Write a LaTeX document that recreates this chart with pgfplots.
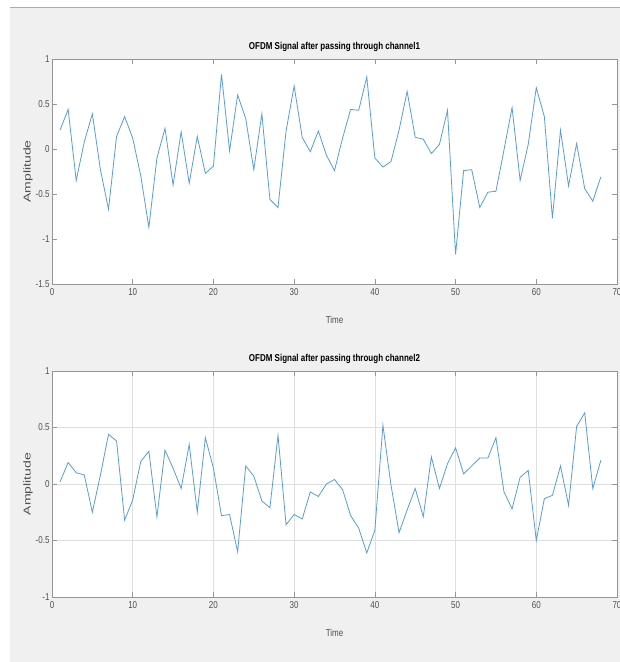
\documentclass[border=0pt]{standalone}
\usepackage{pgfplots}
\usepackage{pgfplotstable}
\pgfplotsset{compat=1.18}
\usepackage{fontspec}
\setmainfont{Liberation Sans}[FakeStretch=0.8]
\newfontfamily\widefont{Liberation Sans}[FakeStretch=1.4]

\definecolor{sig}{RGB}{86,158,214}
\definecolor{figbg}{RGB}{240,240,240}
\definecolor{axgray}{RGB}{150,150,150}
\definecolor{lblgray}{RGB}{80,80,80}

% channel 1
\pgfplotstableread{
t a
1 0.21
2 0.44
3 -0.35
4 0.08
5 0.39
6 -0.23
7 -0.67
8 0.14
9 0.36
10 0.12
11 -0.30
12 -0.87
13 -0.10
14 0.23
15 -0.40
16 0.19
17 -0.38
18 0.14
19 -0.27
20 -0.19
21 0.83
22 -0.02
23 0.60
24 0.34
25 -0.23
26 0.39
27 -0.56
28 -0.65
29 0.20
30 0.70
31 0.13
32 -0.03
33 0.20
34 -0.07
35 -0.24
36 0.12
37 0.44
38 0.43
39 0.80
40 -0.10
41 -0.20
42 -0.14
43 0.21
44 0.64
45 0.13
46 0.11
47 -0.05
48 0.05
49 0.43
50 -1.17
51 -0.24
52 -0.23
53 -0.65
54 -0.48
55 -0.47
56 -0.01
57 0.46
58 -0.35
59 0.05
60 0.68
61 0.36
62 -0.77
63 0.21
64 -0.41
65 0.06
66 -0.44
67 -0.58
68 -0.31
}\chone

% channel 2
\pgfplotstableread{
t a
1 0.02
2 0.19
3 0.10
4 0.08
5 -0.25
6 0.08
7 0.44
8 0.38
9 -0.32
10 -0.14
11 0.20
12 0.29
13 -0.29
14 0.30
15 0.14
16 -0.04
17 0.35
18 -0.25
19 0.41
20 0.14
21 -0.28
22 -0.27
23 -0.60
24 0.16
25 0.07
26 -0.15
27 -0.21
28 0.43
29 -0.36
30 -0.27
31 -0.31
32 -0.07
33 -0.11
34 0.00
35 0.04
36 -0.05
37 -0.28
38 -0.39
39 -0.61
40 -0.41
41 0.52
42 -0.01
43 -0.43
44 -0.23
45 -0.04
46 -0.29
47 0.24
48 -0.04
49 0.18
50 0.32
51 0.09
52 0.16
53 0.23
54 0.23
55 0.41
56 -0.07
57 -0.22
58 0.06
59 0.12
60 -0.50
61 -0.13
62 -0.10
63 0.16
64 -0.19
65 0.51
66 0.63
67 -0.04
68 0.21
}\chtwo

\pgfplotsset{
  mat/.style={
    anchor=south west,
    scale only axis,
    width=565pt,
    xmin=0, xmax=70,
    xtick={0,10,...,70},
    axis line style={axgray, line width=0.8pt},
    major tick style={axgray, line width=0.6pt},
    major tick length=5pt,
    tick align=inside,
    /pgf/number format/assume math mode=true,
    tick label style={font=\fontsize{10}{12}\selectfont, text=lblgray},
    xticklabel style={yshift=-1pt},
    yticklabel style={xshift=1pt},
    every axis title/.style={font=\fontsize{10}{12}\selectfont\bfseries, at={(axis description cs:0.5,1)}, yshift=12pt, anchor=center},
    every axis x label/.style={font=\fontsize{10}{12}\selectfont, text=lblgray, at={(axis description cs:0.5,0)}, yshift=-36pt, anchor=center},
    every axis y label/.style={font=\widefont\fontsize{10}{12}\selectfont, text=lblgray, at={(axis description cs:0,0.5)}, xshift=-24pt, rotate=90, anchor=center},
    xlabel={Time},
    ylabel={Amplitude},
    axis background/.style={fill=white},
  },
}

\begin{document}
\begin{tikzpicture}
\useasboundingbox (0pt,0pt) rectangle (620pt,662pt);
\fill[figbg] (10pt,0pt) rectangle (620pt,654pt);
\draw[axgray!80, line width=1pt] (10pt,654pt) -- (620pt,654pt);

\begin{axis}[mat,
  at={(52pt,378pt)},
  height=225pt,
  ymin=-1.5, ymax=1,
  ytick={-1.5,-1,...,1},
  title={OFDM Signal after passing through channel1},
]
\addplot[sig, line width=0.8pt] table[x=t, y=a] {\chone};
\end{axis}

\begin{axis}[mat,
  at={(52pt,65pt)},
  height=226pt,
  ymin=-1, ymax=1,
  ytick={-1,-0.5,...,1},
  grid=major,
  major grid style={gray!25, line width=0.5pt},
  title={OFDM Signal after passing through channel2},
]
\addplot[sig, line width=0.8pt] table[x=t, y=a] {\chtwo};
\end{axis}
\end{tikzpicture}
\end{document}
